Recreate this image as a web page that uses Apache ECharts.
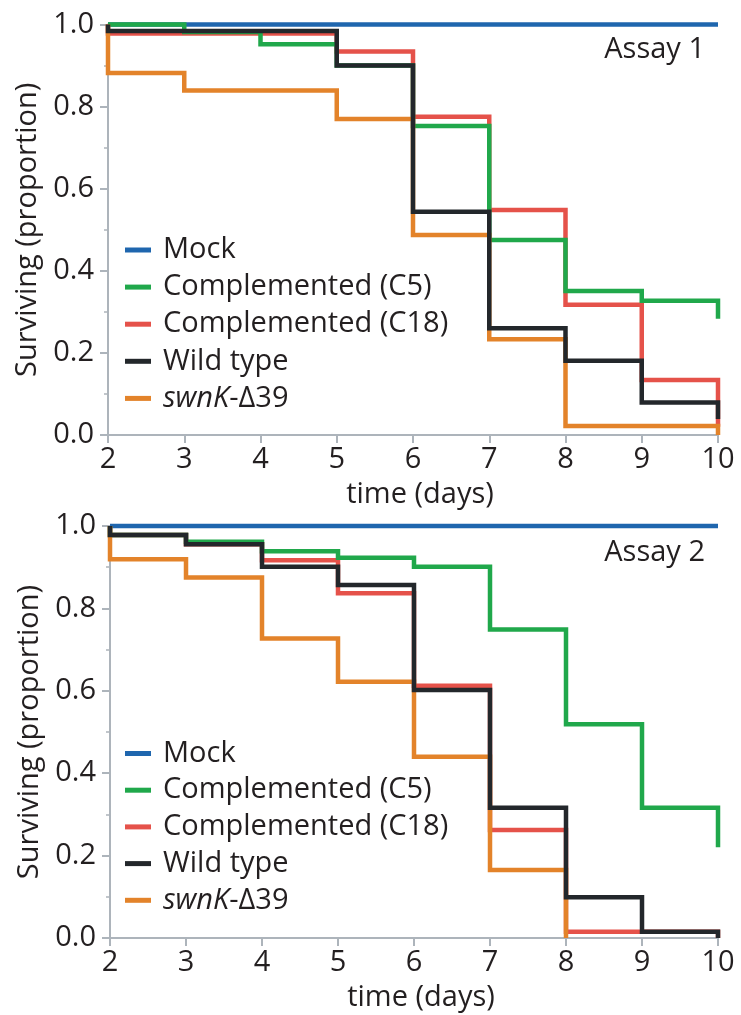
<!DOCTYPE html>
<html>
<head>
<meta charset="utf-8">
<script src="https://cdn.jsdelivr.net/npm/echarts@6/dist/echarts.min.js"></script>
<style>
html,body{margin:0;padding:0;background:#fff;}
#chart{width:741px;height:1015px;}
</style>
</head>
<body>
<div id="chart"></div>
<script>
// ---- data ----
const days = [2, 3, 4, 5, 6, 7, 8, 9, 10];
const seriesNames = ['Mock', 'Complemented (C5)', 'Complemented (C18)', 'Wild type', 'swnK-Δ39'];
const yTicks = [0, 0.2, 0.4, 0.6, 0.8, 1.0];
const startValue = 1.0;

// Assay 1 : survival after the deaths of each day (days 2..10)
const mock1 = [1, 1, 1, 1, 1, 1, 1, 1, 1];
const c5_1  = [1.0, 0.982, 0.952, 0.900, 0.753, 0.475, 0.351, 0.327, 0.283];
const c18_1 = [0.978, 0.978, 0.978, 0.934, 0.775, 0.548, 0.317, 0.134, 0.020];
const wt_1  = [0.984, 0.984, 0.984, 0.900, 0.544, 0.260, 0.181, 0.079, 0.039];
const swnk_1 = [0.882, 0.839, 0.839, 0.770, 0.487, 0.233, 0.022, 0.022, 0.0];

// Assay 2
const mock2 = [1, 1, 1, 1, 1, 1, 1, 1, 1];
const c5_2  = [0.978, 0.962, 0.939, 0.923, 0.901, 0.749, 0.519, 0.316, 0.220];
const c18_2 = [0.978, 0.956, 0.917, 0.837, 0.612, 0.262, 0.015, 0.015, 0.0];
const wt_2  = [0.978, 0.956, 0.901, 0.857, 0.602, 0.316, 0.099, 0.015, 0.0];
const swnk_2 = [0.919, 0.875, 0.727, 0.622, 0.440, 0.165, 0.0];

const colors = {
  'Mock': '#1f66ae',
  'Complemented (C5)': '#20a84b',
  'Complemented (C18)': '#e5524a',
  'Wild type': '#23272b',
  'swnK-Δ39': '#e3832a'
};
const zOrder = {
  'Mock': 2, 'Complemented (C18)': 3, 'Complemented (C5)': 4, 'swnK-Δ39': 5, 'Wild type': 6
};

const FONT = 'Open Sans';
const TEXT = '#231f20';
const AXIS = '#adb4bb';

function stepData(vals) {
  const d = [[days[0], startValue]];
  vals.forEach((v, i) => d.push([days[i], v]));
  return d;
}

function makeSeries(name, vals, idx) {
  return {
    type: 'line', name: name, xAxisIndex: idx, yAxisIndex: idx,
    data: stepData(vals), step: 'end', showSymbol: false, symbol: 'none',
    clip: false, z: zOrder[name], silent: true, animation: false,
    lineStyle: { color: colors[name], width: 4.5, join: 'miter', cap: 'butt' },
    itemStyle: { color: colors[name] }
  };
}

const assays = [
  [mock1, c5_1, c18_1, wt_1, swnk_1],
  [mock2, c5_2, c18_2, wt_2, swnk_2]
];

const grids = [
  { left: 108, right: 23, top: 24.5, height: 410.5 },
  { left: 110, right: 23, top: 526, height: 412 }
];

function xAxis(idx) {
  return {
    type: 'value', gridIndex: idx, min: days[0], max: days[days.length - 1], interval: 1,
    name: 'time (days)', nameLocation: 'middle', nameGap: 45,
    nameTextStyle: { fontFamily: FONT, fontSize: 29, color: TEXT, padding: [0, 0, 0, 14] },
    axisLine: { show: true, lineStyle: { color: AXIS, width: 2 } },
    axisTick: { show: true, length: 8, lineStyle: { color: AXIS, width: 2 } },
    axisLabel: { fontFamily: FONT, fontSize: 29, color: TEXT, margin: 10 },
    splitLine: { show: false }
  };
}
function yAxis(idx) {
  return {
    type: 'value', gridIndex: idx, min: yTicks[0], max: yTicks[yTicks.length - 1], interval: 0.2,
    name: 'Surviving (proportion)', nameLocation: 'middle', nameGap: 63,
    nameTextStyle: { fontFamily: FONT, fontSize: 29, color: TEXT },
    axisLine: { show: true, lineStyle: { color: AXIS, width: 2 } },
    axisTick: { show: true, length: 8, lineStyle: { color: AXIS, width: 2 } },
    minorTick: { show: true, splitNumber: 2, length: 4, lineStyle: { color: AXIS, width: 1.5 } },
    axisLabel: { fontFamily: FONT, fontSize: 29, color: TEXT, margin: 14,
      formatter: v => v.toFixed(1) },
    splitLine: { show: false }, minorSplitLine: { show: false }
  };
}

function legend(top, gap) {
  return {
    left: 125, top: top, orient: 'vertical', selectedMode: false, padding: 0,
    data: seriesNames.map(n => ({ name: n, icon: 'rect' })),
    itemWidth: 26, itemHeight: 5, itemGap: gap,
    formatter: n => n === 'swnK-Δ39' ? '{i|swnK}-Δ39' : n,
    textStyle: {
      fontFamily: FONT, fontSize: 29, color: TEXT, lineHeight: 30, padding: [0, 0, 0, 7],
      rich: { i: { fontFamily: FONT, fontSize: 29, fontStyle: 'italic', color: TEXT, lineHeight: 30 } }
    }
  };
}

const series = [];
assays.forEach((set, idx) => {
  set.forEach((vals, k) => series.push(makeSeries(seriesNames[k], vals, idx)));
});

const option = {
  animation: false,
  backgroundColor: '#ffffff',
  grid: grids,
  xAxis: [xAxis(0), xAxis(1)],
  yAxis: [yAxis(0), yAxis(1)],
  legend: [legend(235, 7.1), legend(738.5, 6.7)],
  graphic: [
    { type: 'text', right: 36, top: 35, style: { text: 'Assay 1', font: '29px "Open Sans"', fill: TEXT } },
    { type: 'text', right: 36, top: 538, style: { text: 'Assay 2', font: '29px "Open Sans"', fill: TEXT } }
  ],
  series: series
};

const chart = echarts.init(document.getElementById('chart'), null, { renderer: 'canvas' });
chart.setOption(option);
</script>
</body>
</html>
